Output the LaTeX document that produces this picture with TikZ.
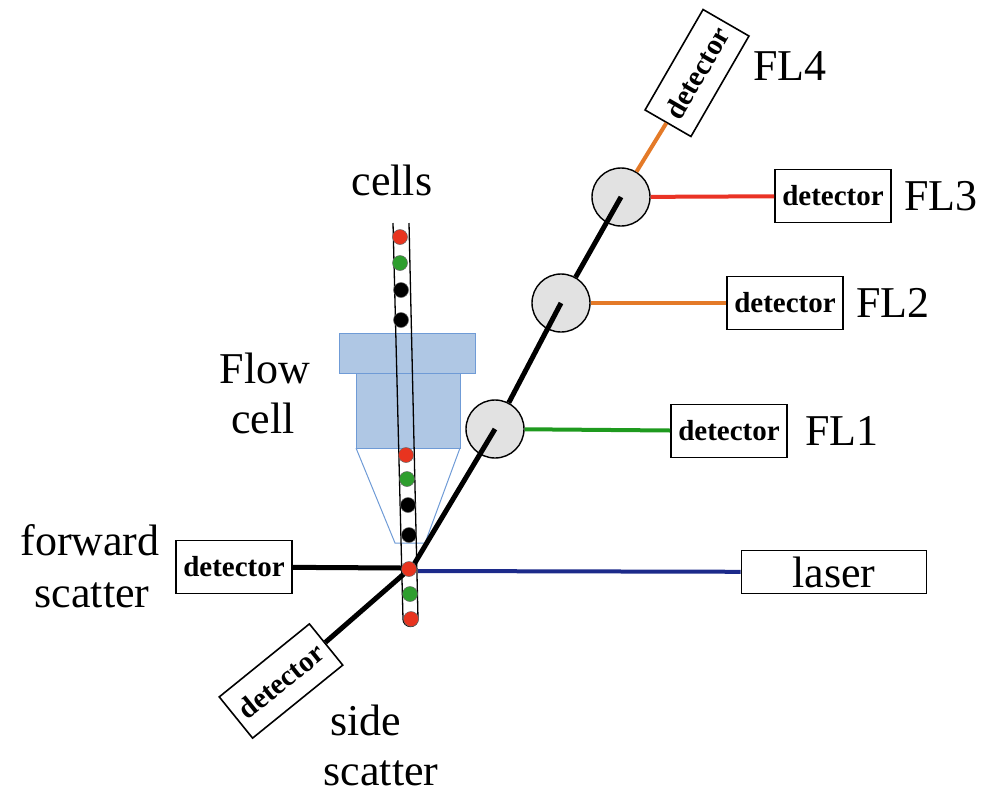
\documentclass[tikz,border=0pt]{standalone}
\usepackage{fontspec}
\newfontfamily\labelfont{LiberationSerif}[Extension=.ttf, UprightFont=*-Regular, BoldFont=*-Bold]
\definecolor{cellfill}{HTML}{AFC7E4}
\definecolor{celledge}{HTML}{6F9BD6}
\definecolor{dotred}{HTML}{E8341F}
\definecolor{dotgreen}{HTML}{2E9E2E}
\definecolor{flgreen}{HTML}{1E9A1E}
\definecolor{florange}{HTML}{E47A28}
\definecolor{flred}{HTML}{EA3325}
\definecolor{laserblue}{HTML}{1C2A8A}
\definecolor{mirror}{HTML}{E2E2E2}
\tikzset{
  bigtext/.style={font=\labelfont\fontsize{44}{48}\selectfont, inner sep=0pt, anchor=base},
  detbox/.style={draw=black, line width=1.6pt, fill=white, inner sep=2pt,
    minimum width=116pt, minimum height=53pt,
    font=\labelfont\bfseries\fontsize{29}{32}\selectfont},
  mirrornode/.style={circle, draw=black, line width=1.4pt, fill=mirror,
    minimum size=58pt, inner sep=0pt},
  beam/.style={line width=5pt, black},
  emission/.style={line width=4pt},
  dotstyle/.style={circle, draw=black!60, line width=0.5pt, minimum size=15pt, inner sep=0pt},
  tube/.style={line width=1.3pt, black}
}
\begin{document}
\begin{tikzpicture}[x=1pt, y=-1pt]
\useasboundingbox (0,0) rectangle (987,793);

% flow cell body
\draw[celledge, line width=1pt, fill=cellfill] (339,333) rectangle (475,373);
\draw[celledge, line width=1pt, fill=cellfill] (356,373) rectangle (460,448);
\draw[celledge, line width=1pt] (356,448) -- (395,543) -- (425,543) -- (460,448);

% interrogation point
\coordinate (X) at (413,566);
\coordinate (tubeL) at (402,568);
\coordinate (tubeR) at (418,571);

% detectors and optics
\node[mirrornode] (c1) at (495,429) {};
\node[mirrornode] (c2) at (561,303) {};
\node[mirrornode] (c3) at (621,197) {};

\node[detbox] (fsd) at (234,567) {detector};
\node[detbox, rotate=39] (ssd) at (281,681) {detector};
\node[detbox] (d1) at (729,431) {detector};
\node[detbox] (d2) at (785,303) {detector};
\node[detbox] (d3) at (833,196) {detector};
\node[detbox, rotate=60] (d4) at (697,73) {detector};
\node[draw=black, line width=1.6pt, minimum width=185pt, minimum height=43pt,
      inner sep=0pt, font=\labelfont\fontsize{44}{48}\selectfont] (laser) at (834,572) {laser};

% light paths
\draw[laserblue, line width=4pt] (laser) -- (tubeR);
\draw[beam] (fsd) -- (tubeL);
\draw[beam] (X) -- (ssd);
\draw[beam] (X) -- (c1.center);
\draw[beam] (c1) -- (c2.center);
\draw[beam] (c2) -- (c3.center);
\draw[emission, flgreen] (c1) -- (d1);
\draw[emission, florange] (c2) -- (d2);
\draw[emission, flred] (c3) -- (d3);
\draw[emission, florange] (c3) -- (d4);

% sample stream
\draw[tube] (393,223) -- (403,619) arc[start angle=180, end angle=360, radius=7.5pt] -- (409,223);

\foreach \x/\y/\c in {400/237/dotred, 400/263/dotgreen, 401/290/black, 401/320/black,
                     406/455/dotred, 407/479/dotgreen, 408/505/black, 409/535/black,
                     409/569/dotred, 410/594/dotgreen, 411/619/dotred}
  \node[dotstyle, fill=\c] at (\x,\y) {};

% labels
\node[bigtext] (lcells) at (392,195) {cells};
\node[bigtext] (lflow) at (265,383) {Flow};
\node[bigtext] (lcell) at (263,433) {cell};
\node[bigtext] (lfwd1) at (90,555) {forward};
\node[bigtext] (lfwd2) at (92,607) {scatter};
\node[bigtext] (lside1) at (366,735) {side};
\node[bigtext] (lside2) at (381,785) {scatter};
\node[bigtext, anchor=base west] (lfl4) at (753,80) {FL4};
\node[bigtext, anchor=base west] (lfl3) at (904,210) {FL3};
\node[bigtext, anchor=base west] (lfl2) at (856,317) {FL2};
\node[bigtext, anchor=base west] (lfl1) at (805,445) {FL1};
\end{tikzpicture}
\end{document}
